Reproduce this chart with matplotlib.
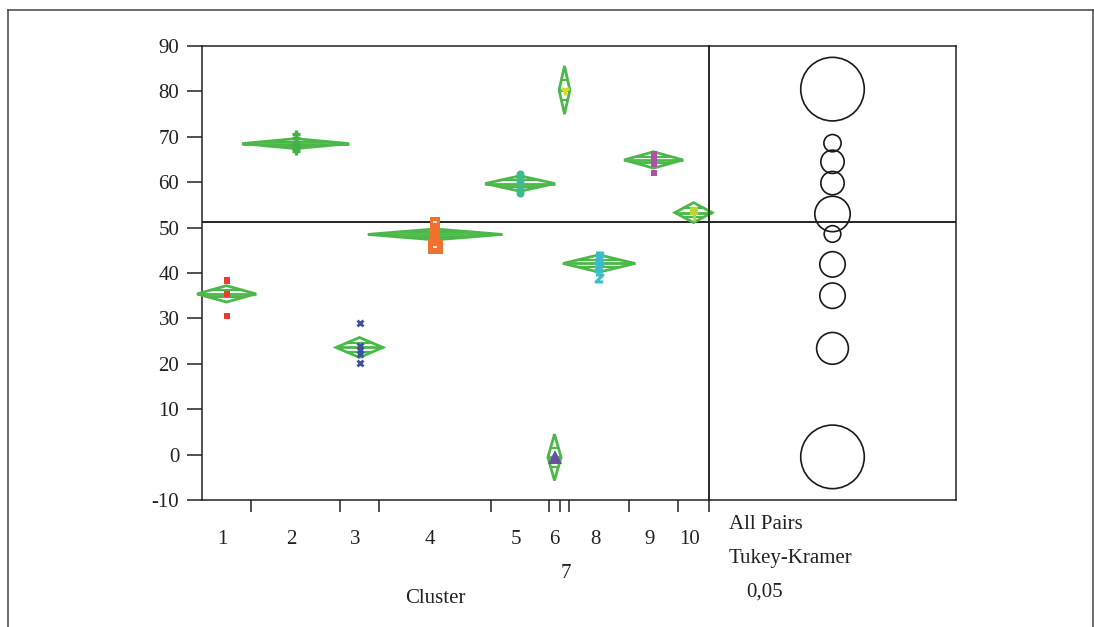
import numpy as np
import matplotlib
matplotlib.use("Agg")
import matplotlib.pyplot as plt
from matplotlib.patches import Polygon, Circle
from matplotlib.lines import Line2D
from matplotlib.path import Path

plt.rcParams['font.family'] = ['Liberation Serif', 'DejaVu Serif']

# ---------------- data ----------------
clusters = ['1', '2', '3', '4', '5', '6', '7', '8', '9', '10']
group_width = [49, 89, 39, 112, 58, 11, 9, 60, 49, 31]       # relative group sizes (x extent)
group_mean = [35.4, 68.5, 23.6, 48.5, 59.7, -0.6, 80.3, 42.1, 64.9, 53.3]
group_ci = [1.8, 1.1, 2.2, 1.2, 1.7, 5.1, 5.3, 1.9, 1.8, 2.2]
circle_center = [35.0, 68.6, 23.4, 48.6, 59.8, -0.5, 80.5, 41.9, 64.5, 53.0]
circle_radius = [2.8, 1.9, 3.5, 1.83, 2.57, 7.0, 7.0, 2.8, 2.57, 3.9]
grand_mean = 51.2

pts_1 = [38.4, 38.2, 35.3, 30.6]
pts_2 = [70.6, 69.8, 68.9, 68.2, 67.5, 66.9]
pts_3 = [29.0, 23.9, 23.0, 22.1, 20.1]
pts_4_small = [51.3, 50.0, 48.7]
pts_4_big = [46.0]
pts_5 = [61.9, 61.0, 60.3, 58.4, 57.6]
pts_6 = [-0.5]
pts_7 = [80.3]
pts_8 = [43.8, 43.0, 42.3, 41.5, 41.0, 39.0]
pts_9 = [66.2, 65.5, 64.8, 64.0, 62.1]
pts_10_box = [53.7]
pts_10_bar = [52.3]

ytick_vals = [-10, 0, 10, 20, 30, 40, 50, 60, 70, 80, 90]
ytick_labels = ['-10', '0', '10', '20', '30', '40', '50', '60', '70', '80', '90']

# ---------------- figure ----------------
W, H = 1094, 627
fig = plt.figure(figsize=(W / 100, H / 100), dpi=100)
fig.patch.set_facecolor('white')

ax = fig.add_axes([202 / W, (H - 500) / H, 507 / W, 454 / H])
axr = fig.add_axes([709 / W, (H - 500) / H, 247 / W, 454 / H])
axr.patch.set_alpha(0)

# outer frame
frame_c = '#444444'
for xs, ys in [([7.5, 7.5], [0, H - 10]), ([7.5, 1093], [H - 10, H - 10]), ([1093, 1093], [0, H - 10])]:
    fig.add_artist(Line2D(xs, ys, transform=None, color=frame_c, lw=1.1))

bounds = np.concatenate([[0], np.cumsum(group_width)])
centers = (bounds[:-1] + bounds[1:]) / 2
total = bounds[-1]

ax.set_xlim(0, total)
ax.set_ylim(-10, 90)
ax.set_yticks(ytick_vals)
ax.set_yticklabels(ytick_labels)
ax.set_xticks(bounds[1:])
ax.set_xticklabels([])
spc = '#222222'
for s in ax.spines.values():
    s.set_color(spc)
    s.set_linewidth(1.1)
ax.tick_params(axis='x', direction='out', length=8.6, width=1.1, color=spc)
ax.tick_params(axis='y', direction='out', length=10.8, width=1.1, color=spc,
               pad=5.5, labelsize=15, labelcolor='#222222')

green = '#4cb849'
dlw = 2.0
for i, (cx, w, m, h) in enumerate(zip(centers, group_width, group_mean, group_ci)):
    hw = 0.6 * w
    poly = Polygon([(cx - hw, m), (cx, m + h), (cx + hw, m), (cx, m - h)], closed=True,
                   fill=False, edgecolor=green, lw=dlw, joinstyle='miter', clip_on=False, zorder=3)
    ax.add_patch(poly)
    ax.plot([cx - hw, cx + hw], [m, m], color=green, lw=dlw, clip_on=False, zorder=3,
            solid_capstyle='butt')
    for sgn in (1, -1):
        ax.plot([cx - 0.6 * hw, cx + 0.6 * hw], [m + sgn * 0.42 * h] * 2, color=green, lw=dlw * 0.8,
                clip_on=False, zorder=3, solid_capstyle='butt')

ax.axhline(grand_mean, color='black', lw=1.2, zorder=2)

zpath = Path([(-1, 1), (1, 1), (-1, -1), (1, -1)],
             [Path.MOVETO, Path.LINETO, Path.LINETO, Path.LINETO])


def pts(i, vals, **kw):
    ax.plot([centers[i]] * len(vals), vals, linestyle='none', zorder=5, clip_on=False, **kw)


pts(0, pts_1, marker='s', ms=4.3, color='#ee3a2f', mew=0)
pts(1, pts_2, marker='+', ms=6, color='#45b046', mew=2.4)
pts(2, pts_3, marker='x', ms=4.4, color='#3c4fa0', mew=2.0)
pts(3, pts_4_small, marker='s', ms=7.6, color='#f0702e', mew=0)
pts(3, pts_4_big, marker='s', ms=10.8, color='#f0702e', mew=0)
pts(3, [51.2, 45.8], marker='_', ms=3.5, color='white', mew=1.2)
pts(4, pts_5, marker='o', ms=5.8, color='#3dbb8c', mew=0)
pts(5, pts_6, marker='^', ms=10.5, color='#6b4fa3', mew=0)
pts(6, pts_7, marker='1', ms=7, color='#d4dc2a', mew=2.5)
pts(7, pts_8, marker=zpath, ms=5, color='#3cbcc8', mew=2.2, fillstyle='none')
pts(8, pts_9, marker='s', ms=4.5, color='#b050a8', mew=0)
pts(9, pts_10_box, marker='s', ms=5.5, color='#b7d63a', mew=0)
pts(9, pts_10_bar, marker='|', ms=6, color='#b7d63a', mew=2.2)

# x labels (small horizontal nudges in pixels to mimic the original placement)
label_nudge = [-4, -4, -4, -5, -4, 0, 1, -4, -4, -4]
for cx, lab, dx in zip(centers, clusters, label_nudge):
    yy = -0.172 if lab == '7' else -0.0969
    ax.text(cx + dx, yy, lab, transform=ax.get_xaxis_transform(), ha='center', va='baseline',
            fontsize=15, color='#222222')
ax.text((435 - 202), -0.2265, 'Cluster', transform=ax.get_xaxis_transform(), ha='center',
        va='baseline', fontsize=15, color='#222222')

# right panel: comparison circles
rw = 247 / 4.54
axr.set_xlim(0, rw)
axr.set_ylim(-10, 90)
axr.set_xticks([])
axr.set_yticks([])
for k, s in axr.spines.items():
    s.set_color(spc)
    s.set_linewidth(1.1)
axr.axhline(grand_mean, color='black', lw=1.2, zorder=2)
for c, r in zip(circle_center, circle_radius):
    axr.add_patch(Circle((rw / 2, c), r, fill=False, edgecolor='#1a1a1a', lw=1.2, zorder=3))

axr.text(20 / 247, -0.0645, 'All Pairs', transform=axr.transAxes, ha='left', va='baseline',
         fontsize=15, color='#222222')
axr.text(20 / 247, -0.1395, 'Tukey-Kramer', transform=axr.transAxes, ha='left', va='baseline',
         fontsize=15, color='#222222')
axr.text(37 / 247, -0.2120, '0,05', transform=axr.transAxes, ha='left', va='baseline',
         fontsize=15, color='#222222')

fig.savefig('out.png', dpi=100)
